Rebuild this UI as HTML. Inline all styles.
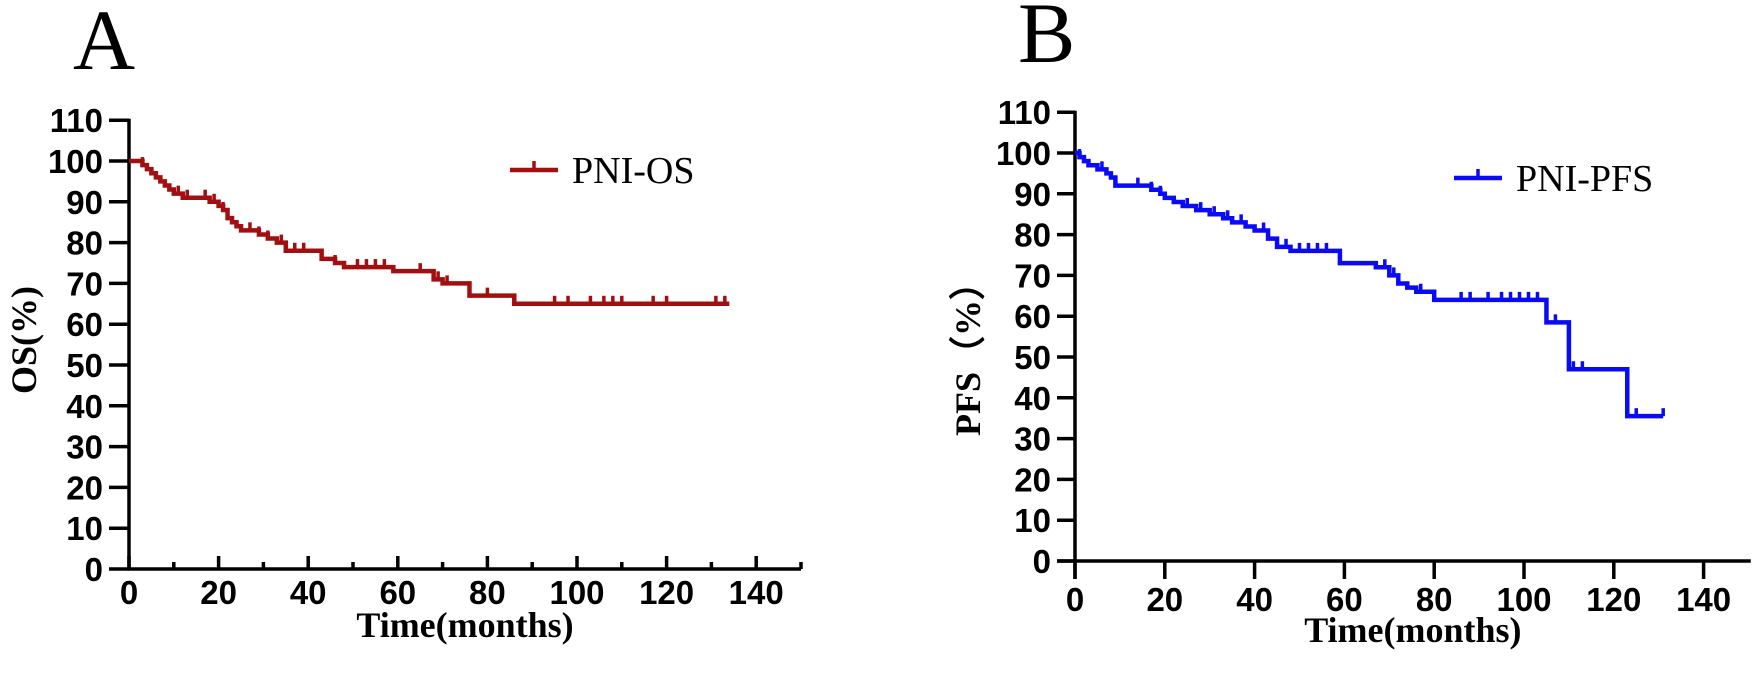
<!DOCTYPE html>
<html><head><meta charset="utf-8">
<style>
html,body{margin:0;padding:0;background:#fff;}
svg{display:block;}
.tk{font-family:"Liberation Sans",Arial,sans-serif;font-weight:bold;font-size:33px;fill:#000;}
.ser{font-family:"Liberation Serif","Times New Roman",serif;fill:#000;}
</style></head>
<body>
<svg id="chart" width="1755" height="682" viewBox="0 0 1755 682" xmlns="http://www.w3.org/2000/svg">
<text x="73" y="69" class="ser" font-size="86">A</text>
<text x="1018" y="62" class="ser" font-size="86">B</text>
<g id="panelA"></g>
<g id="panelB"></g>
</svg>
<script>
// ---- data ----
const yTicks = [0,10,20,30,40,50,60,70,80,90,100,110];
const xTicks = [0,20,40,60,80,100,120,140];
// OS (panel A): step times (months) and survival (%)
const osTimes = [0,3,4,5,6,7,8,9,10,12,18,20,21,22,23,24,25,29,31,33,35,42,43,46,48,58,59,67,68,70,75,76,85,86,134];
const osSurv  = [100,99,98,97,96,95,94,93,92,91,90,89,88,86,85,84,83,82,81,80,78,78,76,75,74,74,73,73,71,70,70,67,67,65,65];
const osCensor = [3,11,13,17,19,21,27,29,31,34,37,39,46,51,53,55,57,65,69,71,80,95,98,103,106,108,110,117,120,131,133];
// PFS (panel B)
const pfsTimes = [0,1,2,3,5,7,8,9,15,17,19,20,22,24,27,30,33,35,38,40,43,45,48,58,59,66,67,70,72,74,76,80,105,110,123,131];
const pfsSurv  = [100,99,98,97,96,95,94,92,92,91,90,89,88,87,86,85,84,83,82,81,79,77,76,76,73,73,72,70,68,67,66,64,58.5,47,35.5,35.5];
const pfsCensor = [1,6,14,17,19,25,28,31,34,37,42,47,50,52,54,56,69,71,77,86,88,92,95,97,99,101,103,107,111,113,125,131];

const NS='http://www.w3.org/2000/svg';
function mk(tag,attrs,parent){const e=document.createElementNS(NS,tag);for(const k in attrs)e.setAttribute(k,attrs[k]);parent.appendChild(e);return e;}

function drawPanel(g,cfg,times,surv,censor){
  const X=v=>cfg.x0+v*cfg.xs, Y=v=>cfg.y0-v*cfg.ys;
  const ya=mk('line',{x1:X(0),y1:Y(110)-1.5,x2:X(0),y2:cfg.yAxisBottom,stroke:'#000','stroke-width':3.5},g);
  
  
  yTicks.forEach(t=>{
    const l=mk('line',{x1:X(0)-cfg.ytl,y1:Y(t),x2:X(0),y2:Y(t),stroke:'#000','stroke-width':3.5},g);
    
    
    const tx=mk('text',{x:X(0)-cfg.ytl-6,y:Y(t)+12,'text-anchor':'end',class:'tk'},g);
    tx.textContent=t;
    
    
  });
  const xa=mk('line',{x1:cfg.xAxisLeft,y1:Y(0),x2:X(cfg.xEnd),y2:Y(0),stroke:'#000','stroke-width':3.5},g);
  
  
  xTicks.forEach(t=>{
    const l=mk('line',{x1:X(t),y1:Y(0),x2:X(t),y2:Y(0)+cfg.xtl,stroke:'#000','stroke-width':3.5},g);
    
    
    const tx=mk('text',{x:X(t),y:cfg.xlabY,'text-anchor':'middle',class:'tk'},g);
    tx.textContent=t;
    
    
  });
  if(cfg.minor){
    for(let t=10;t<=cfg.xEnd;t+=20){
      const l=mk('line',{x1:X(t),y1:Y(0),x2:X(t),y2:Y(0)-7,stroke:'#000','stroke-width':3.5},g);
      
      
    }
  }
  let d='M'+X(times[0])+','+Y(surv[0]);
  for(let i=1;i<times.length;i++){d+=' H'+X(times[i])+' V'+Y(surv[i]);}
  const p=mk('path',{d:d,fill:'none',stroke:cfg.color,'stroke-width':4.5},g);
  
  
  censor.forEach(c=>{
    let s=surv[0];
    for(let i=0;i<times.length;i++){if(times[i]<=c)s=surv[i];}
    const m=mk('line',{x1:X(c),y1:Y(s),x2:X(c),y2:Y(s)-8,stroke:cfg.color,'stroke-width':3.5},g);
    
    
  });
  const lg=mk('g',{},g);
  
  
  mk('line',{x1:cfg.legX,y1:cfg.legY,x2:cfg.legX+48,y2:cfg.legY,stroke:cfg.color,'stroke-width':4.5},lg);
  mk('line',{x1:cfg.legX+24,y1:cfg.legY,x2:cfg.legX+24,y2:cfg.legY-9,stroke:cfg.color,'stroke-width':3.5},lg);
  const lt=mk('text',{x:cfg.legX+62,y:cfg.legY+13,class:'ser','font-size':38},lg);
  lt.textContent=cfg.legend;
  const xt=mk('text',{x:(X(0)+X(cfg.xEnd))/2,y:cfg.xtitleY,'text-anchor':'middle',class:'ser','font-size':36,'font-weight':'bold'},g);
  xt.textContent='Time(months)';
  
  
  const yt=mk('text',{x:0,y:0,'text-anchor':'middle',class:'ser','font-size':36,'font-weight':'bold',transform:'translate('+cfg.ytX+','+cfg.ytY+') rotate(-90)'},g);
  yt.textContent=cfg.ytitle;
  
  
}

drawPanel(document.getElementById('panelA'),{x0:129,xs:4.48,y0:569,ys:4.08,xEnd:150,ytl:20,xtl:-13,minor:true,
  yAxisBottom:570.5,xAxisLeft:127.5,xlabY:604,color:'#a20f10',legX:510,legY:170,legend:'PNI-OS',
  xtitleY:637,ytitle:'OS(%)',ytX:36,ytY:340},osTimes,osSurv,osCensor);
drawPanel(document.getElementById('panelB'),{x0:1075,xs:4.49,y0:561,ys:4.08,xEnd:150.5,ytl:18,xtl:18,minor:false,
  yAxisBottom:579,xAxisLeft:1057,xlabY:611,color:'#0a0af5',legX:1454,legY:178,legend:'PNI-PFS',
  xtitleY:642,ytitle:'PFS（%）',ytX:980,ytY:350},pfsTimes,pfsSurv,pfsCensor);
</script>
</body></html>
